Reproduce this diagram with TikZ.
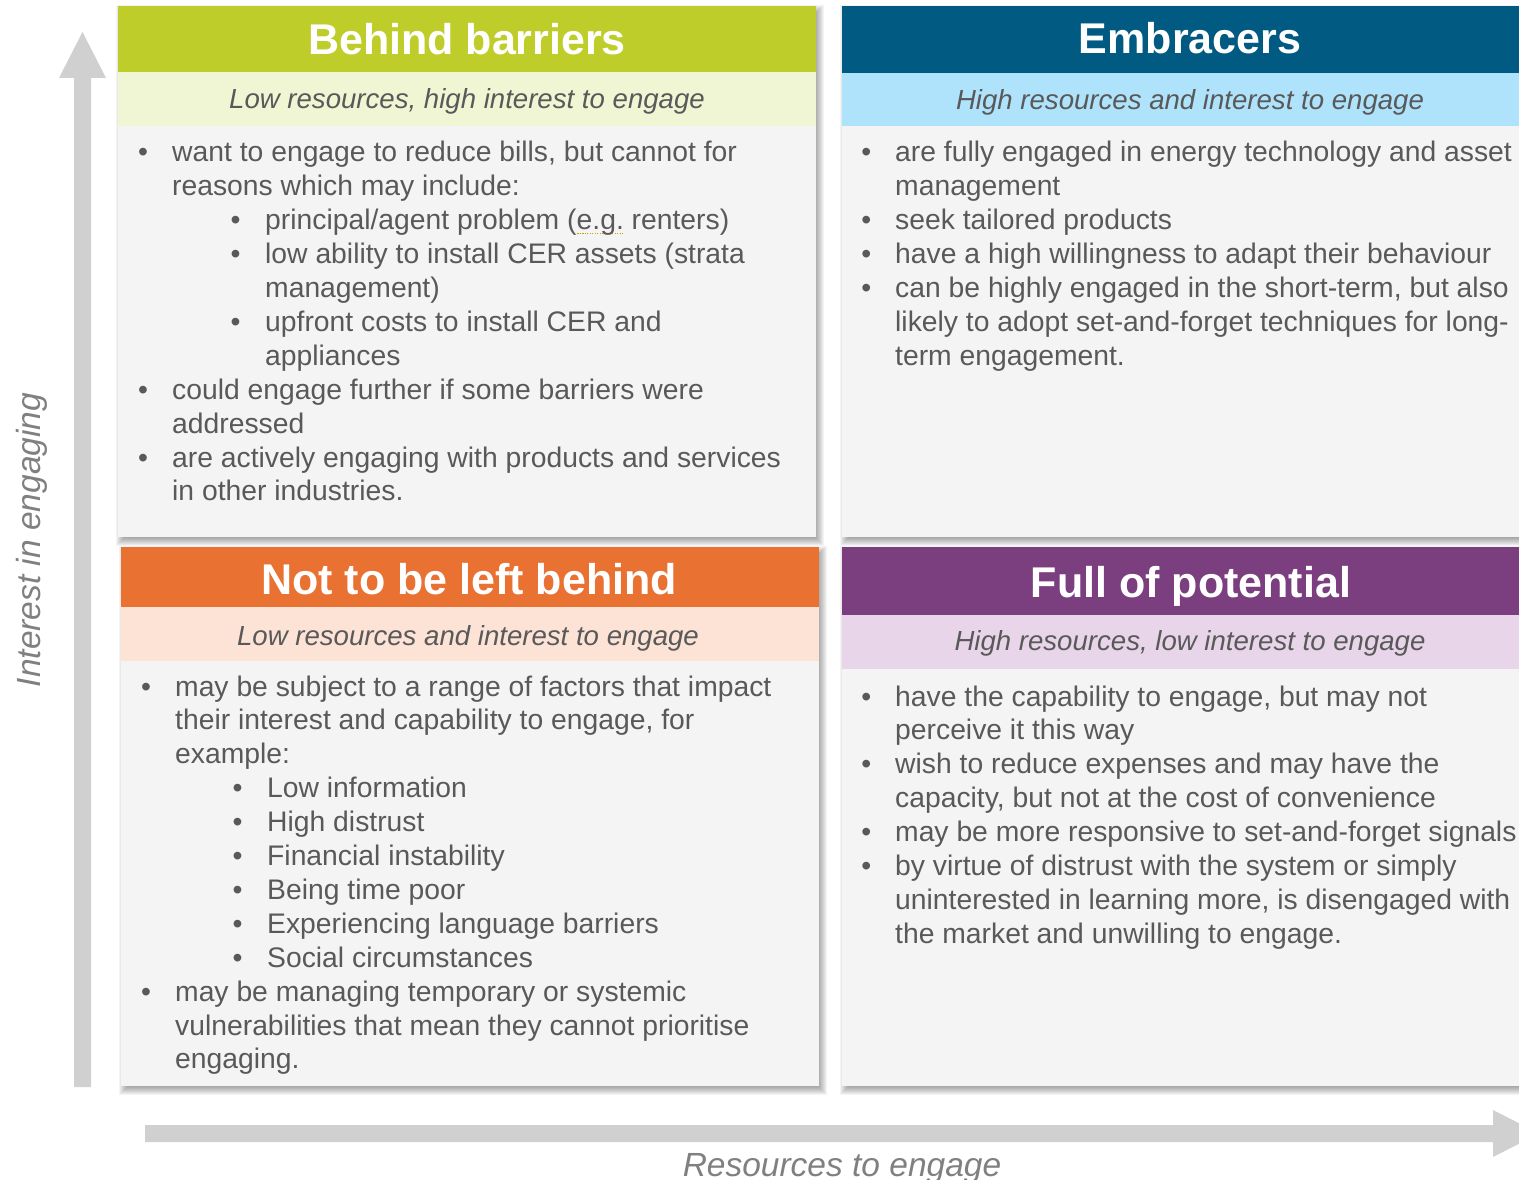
\documentclass[tikz,border=0pt]{standalone}
\usepackage{fontspec}
\setmainfont{Liberation Sans}
\definecolor{tgreen}{HTML}{BFCD2B}
\definecolor{sgreen}{HTML}{F0F5D4}
\definecolor{tblue}{HTML}{005A82}
\definecolor{sblue}{HTML}{AFE3FB}
\definecolor{torange}{HTML}{E97132}
\definecolor{sorange}{HTML}{FCE3D6}
\definecolor{tpurple}{HTML}{7B3F80}
\definecolor{spurple}{HTML}{E8D5E9}
\definecolor{bodyg}{HTML}{F4F4F4}
\definecolor{txt}{HTML}{595959}
\definecolor{axisg}{HTML}{D0D0D0}
\definecolor{axistxt}{HTML}{808080}
\definecolor{spellc}{HTML}{C8A000}
\frenchspacing
\newcommand\Ba[1]{\hbox{\llap{\makebox[0pt]{\textbullet}\hspace{29pt}}#1}}
\newcommand\Ca[1]{\hbox{#1}}
\newcommand\Bb[2]{\hbox{\hspace{#1}\llap{\makebox[0pt]{\textbullet}\hspace{29.5pt}}#2}}
\newcommand\Cb[2]{\hbox{\hspace{#1}#2}}
\newcommand\spell[1]{\setbox0=\hbox{#1}\rlap{\color{spellc}\raisebox{-4.5pt}{\xleaders\hbox to 2.4pt{\hss\rule{1.2pt}{1.2pt}\hss}\hskip\wd0}}#1}
\newcommand\lines[1]{\vtop{\baselineskip=33.9pt\lineskiplimit=-1000pt\lineskip=0pt #1}}
\newcommand\boxshadow[4]{\foreach \e in {-4,...,5}{\fill[black,opacity=0.045] ({#1+3-\e},{#2+4-\e}) rectangle ({#3+3+\e},{#4+4+\e});}}
\tikzset{
  titletext/.style={text=white, font=\fontsize{43}{50}\selectfont\bfseries, inner sep=0pt, anchor=base},
  subtext/.style={text=txt, font=\fontsize{27.6}{32}\selectfont\itshape, inner sep=0pt, anchor=base},
  bodytext/.style={text=txt, font=\fontsize{28.3}{33.9}\selectfont, inner sep=0pt, anchor=base west},
  axislabel/.style={text=axistxt, font=\fontsize{33.5}{40}\selectfont\itshape, inner sep=0pt, anchor=base},
}
\begin{document}
\begin{tikzpicture}[x=1pt,y=-1pt]
\useasboundingbox (0,0) rectangle (1519,1180);
\clip (0,0) rectangle (1519,1180);
\fill[white] (0,0) rectangle (1519,1180);
% axes
\fill[axisg] (74,1087) -- (74,78) -- (59,78) -- (82.5,32) -- (106,78) -- (91,78) -- (91,1087) -- cycle;
\fill[axisg] (145,1125) -- (1493,1125) -- (1493,1110) -- (1539,1133.5) -- (1493,1157) -- (1493,1142) -- (145,1142) -- cycle;
\node[axislabel, rotate=90] (ylab) at (40,540) {Interest in engaging};
\node[axislabel] (xlab) at (842,1176) {Resources to engage};
% shadows
\boxshadow{118}{6}{816}{537}
\boxshadow{842}{6}{1539}{537}
\boxshadow{121}{547}{819}{1086}
\boxshadow{842}{547}{1539}{1086}
% top-left
\fill[bodyg] (118,126) rectangle (816,537);
\fill[sgreen] (118,72) rectangle (816,126);
\fill[tgreen] (118,6) rectangle (816,72);
% top-right
\fill[bodyg] (842,126) rectangle (1539,537);
\fill[sblue] (842,73) rectangle (1539,126);
\fill[tblue] (842,6) rectangle (1539,73);
% bottom-left
\fill[bodyg] (121,661) rectangle (819,1086);
\fill[sorange] (121,607) rectangle (819,661);
\fill[torange] (121,547) rectangle (819,607);
% bottom-right
\fill[bodyg] (842,669) rectangle (1539,1086);
\fill[spurple] (842,615) rectangle (1539,669);
\fill[tpurple] (842,547) rectangle (1539,615);
% titles
\node[titletext] (t1) at (467,55) {Behind barriers};
\node[titletext] (t2) at (1190,54) {Embracers};
\node[titletext] (t3) at (469,594) {Not to be left behind};
\node[titletext] (t4) at (1191,597) {Full of potential};
\node[subtext] (s1) at (467,109) {Low resources, high interest to engage};
\node[subtext] (s2) at (1190,110) {High resources and interest to engage};
\node[subtext] (s3) at (468,645) {Low resources and interest to engage};
\node[subtext] (s4) at (1190,650) {High resources, low interest to engage};
% bodies
\node[bodytext] (b1) at (172,162) {\lines{%
\Ba{want to engage to reduce bills, but cannot for}
\Ca{reasons which may include:}
\Bb{93pt}{principal/agent problem (\spell{e.g.} renters)}
\Bb{93pt}{low ability to install CER assets (strata}
\Cb{93pt}{management)}
\Bb{93pt}{upfront costs to install CER and}
\Cb{93pt}{appliances}
\Ba{could engage further if some barriers were}
\Ca{addressed}
\Ba{are actively engaging with products and services}
\Ca{in other industries.}}};
\node[bodytext] (b2) at (895,162) {\lines{%
\Ba{are fully engaged in energy technology and asset}
\Ca{management}
\Ba{seek tailored products}
\Ba{have a high willingness to adapt their behaviour}
\Ba{can be highly engaged in the short-term, but also}
\Ca{likely to adopt set-and-forget techniques for long-}
\Ca{term engagement.}}};
\node[bodytext] (b3) at (175,696) {\lines{%
\Ba{may be subject to a range of factors that impact}
\Ca{their interest and capability to engage, for}
\Ca{example:}
\Bb{92pt}{Low information}
\Bb{92pt}{High distrust}
\Bb{92pt}{Financial instability}
\Bb{92pt}{Being time poor}
\Bb{92pt}{Experiencing language barriers}
\Bb{92pt}{Social circumstances}
\Ba{may be managing temporary or systemic}
\Ca{vulnerabilities that mean they cannot prioritise}
\Ca{engaging.}}};
\node[bodytext] (b4) at (895,706) {\lines{%
\Ba{have the capability to engage, but may not}
\Ca{perceive it this way}
\Ba{wish to reduce expenses and may have the}
\Ca{capacity, but not at the cost of convenience}
\Ba{may be more responsive to set-and-forget signals}
\Ba{by virtue of distrust with the system or simply}
\Ca{uninterested in learning more, is disengaged with}
\Ca{the market and unwilling to engage.}}};
\end{tikzpicture}
\end{document}
